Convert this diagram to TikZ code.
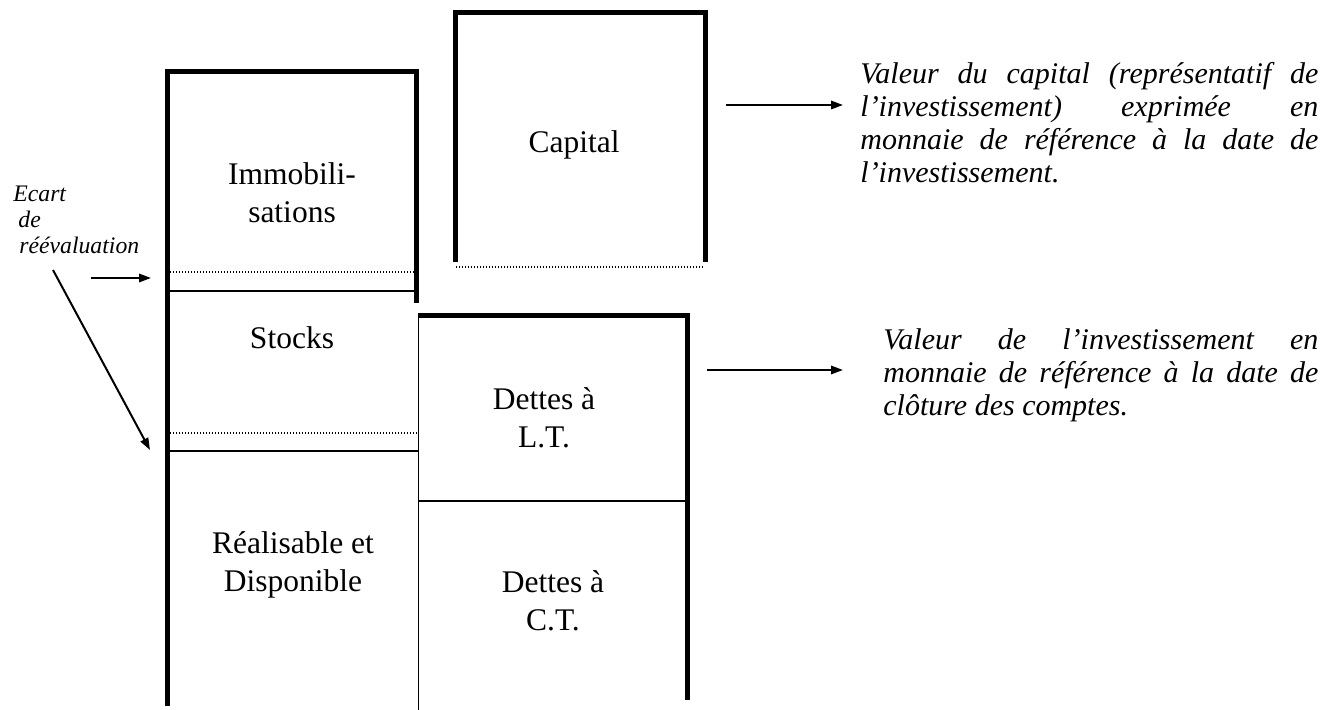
\documentclass[tikz,border=0pt]{standalone}
\usepackage{fontspec}
\setmainfont{Liberation Serif}
\usetikzlibrary{arrows.meta}
\hbadness=10000
\begin{document}
\begin{tikzpicture}[x=0.5pt,y=-0.5pt,
  heavy/.style={line width=2.5pt, line join=miter},
  thinline/.style={line width=0.75pt},
  dotline/.style={line width=0.6pt, dash pattern=on 0.7pt off 0.8pt},
  arr/.style={line width=1pt, -{Triangle[length=6pt,width=4.2pt]}},
  boxtext/.style={inner sep=0pt, font=\fontsize{15.75pt}{19pt}\selectfont},
  desc/.style={inner sep=0pt, font=\fontsize{15pt}{16.5pt}\selectfont\itshape},
  ecartstyle/.style={inner sep=0pt, font=\fontsize{11.85pt}{12.8pt}\selectfont\itshape}]
\useasboundingbox (0,0) rectangle (1322,710);

% left column (actif)
\draw[heavy] (167,706) -- (167,72) -- (416.5,72) -- (416.5,303);
\draw[dotline] (170,272) -- (414,272);
\draw[thinline] (168,291) -- (416,291);
\draw[dotline] (170,433) -- (417,433);
\draw[thinline] (168,451) -- (418,451);

% dettes column
\draw[thinline] (418.5,314) -- (418.5,710);
\draw[heavy] (418,315.5) -- (687,315.5) -- (687,700);
\draw[thinline] (418,501) -- (687,501);

% capital box
\draw[heavy] (455.5,262) -- (455.5,13) -- (705,13) -- (705,262);
\draw[dotline] (456,267) -- (704,267);

% box texts
\node[boxtext, anchor=base] (immo) at (292,185) {\parbox[t]{200pt}{\centering Immobili-\\sations}};
\node[boxtext, anchor=base] (stocks) at (292,349) {\parbox[t]{200pt}{\centering Stocks}};
\node[boxtext, anchor=base] (real) at (293,553) {\parbox[t]{200pt}{\centering Réalisable et\\Disponible}};
\node[boxtext, anchor=base] (capital) at (574,153) {\parbox[t]{200pt}{\centering Capital}};
\node[boxtext, anchor=base] (dlt) at (544,410) {\parbox[t]{200pt}{\centering Dettes à\\L.T.}};
\node[boxtext, anchor=base] (dct) at (553,592) {\parbox[t]{200pt}{\centering Dettes à\\C.T.}};

% ecart text
\node[ecartstyle, anchor=base west] (ecart) at (13,202) {\parbox[t]{100pt}{\raggedright Ecart\\\hspace*{2.5pt}de\\\hspace*{3pt}réévaluation}};

% right descriptions
\node[desc, anchor=base west] (desc1) at (860,84) {\parbox[t]{229pt}{Valeur du capital (représentatif de\linebreak l’investissement) exprimée en\linebreak monnaie de référence à la date de\linebreak l’investissement.}};
\node[desc, anchor=base west] (desc2) at (883,350) {\parbox[t]{217.5pt}{Valeur de l’investissement en\linebreak monnaie de référence à la date de\linebreak clôture des comptes.}};

% arrows
\coordinate (ea) at (91,278);
\coordinate (eb) at (151,278);
\coordinate (da) at (53,270);
\coordinate (db) at (150,450);
\coordinate (c1a) at (726,105);
\coordinate (c1b) at (843,105);
\coordinate (c2a) at (707,370);
\coordinate (c2b) at (843,370);
\draw[arr] (ea) -- (eb);
\draw[arr] (da) -- (db);
\draw[arr] (c1a) -- (c1b);
\draw[arr] (c2a) -- (c2b);
\end{tikzpicture}
\end{document}
